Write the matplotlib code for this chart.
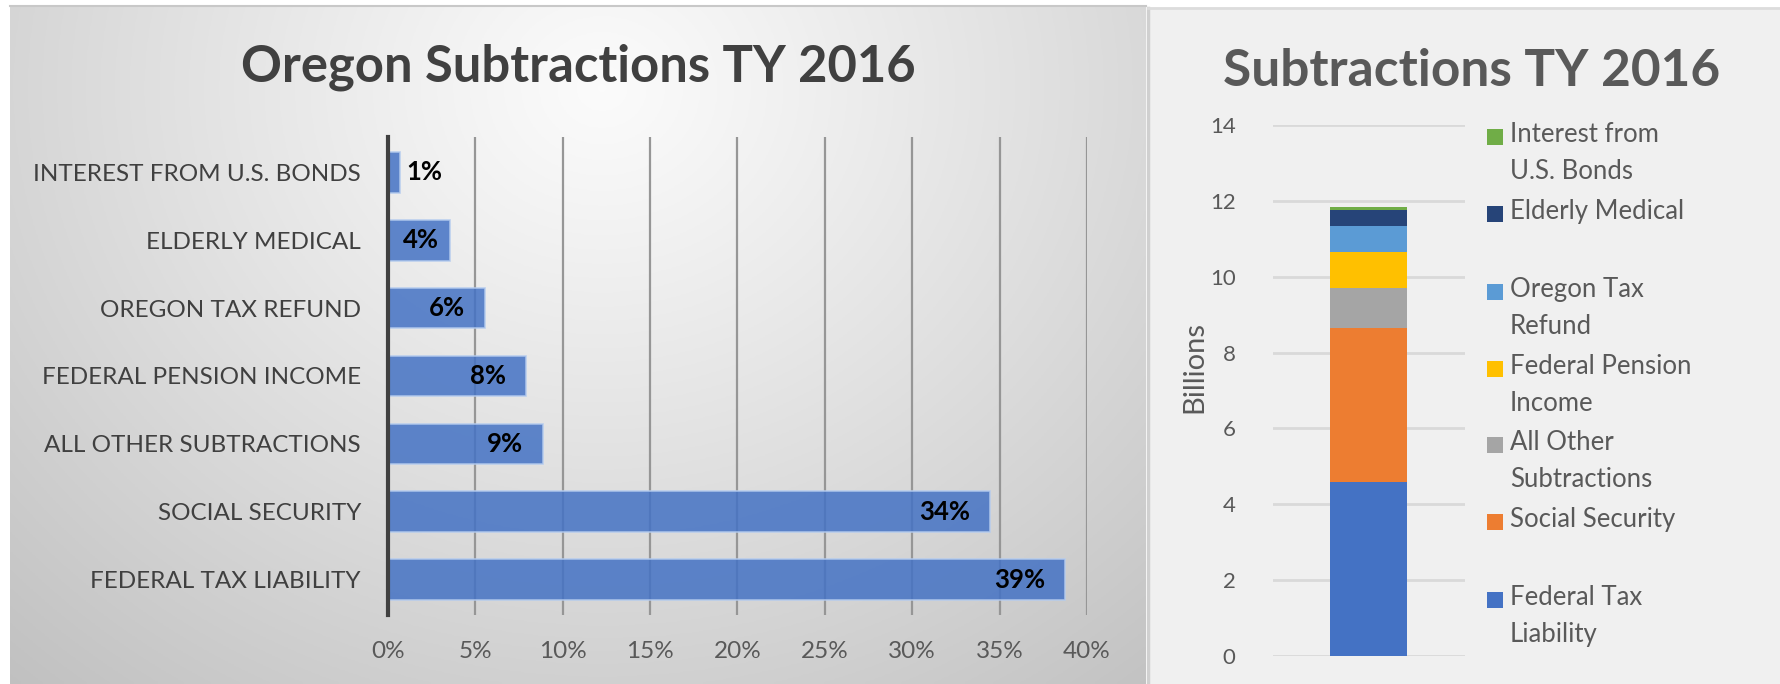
import numpy as np
import matplotlib
matplotlib.use("Agg")
import matplotlib.pyplot as plt
from matplotlib.patches import Rectangle
from matplotlib.ticker import PercentFormatter

# ---------------- data ----------------
categories = ["FEDERAL TAX LIABILITY", "SOCIAL SECURITY", "ALL OTHER SUBTRACTIONS",
              "FEDERAL PENSION INCOME", "OREGON TAX REFUND", "ELDERLY MEDICAL",
              "INTEREST FROM U.S. BONDS"]
share_pct = [38.76, 34.45, 8.85, 7.88, 5.57, 3.53, 0.69]
x_ticks_pct = [0, 5, 10, 15, 20, 25, 30, 35, 40]

stack_labels = ["Federal Tax\nLiability", "Social Security", "All Other\nSubtractions",
                "Federal Pension\nIncome", "Oregon Tax\nRefund", "Elderly Medical",
                "Interest from\nU.S. Bonds"]
stack_billions = [4.58, 4.06, 1.06, 0.94, 0.69, 0.43, 0.07]
stack_colors = ["#4472c4", "#ed7d31", "#a5a5a5", "#ffc000", "#5b9bd5", "#264478", "#70ad47"]
y_ticks_billions = [0, 2, 4, 6, 8, 10, 12, 14]

FONT = "Lato"
plt.rcParams['font.family'] = [FONT, 'DejaVu Sans']

W, H = 1780, 684
fig = plt.figure(figsize=(W / 100, H / 100), dpi=100)
fig.patch.set_facecolor("white")


def fx(px):
    return px / W


def fy(py):
    return 1 - py / H


# ---------------- left panel background (gradient) ----------------
bg = fig.add_axes([fx(10), 0, fx(1146 - 10), fy(5)])
bg.set_axis_off()
ny, nx = 200, 400
yy, xx = np.mgrid[0:ny, 0:nx]
cx, cy = 0.52 * nx, 0.12 * ny
d = np.sqrt(((xx - cx) / nx) ** 2 * 1.0 + ((yy - cy) / ny) ** 2 * 0.45)
d = d / d.max()
v = 0.985 - 0.23 * d ** 1.1
img = np.dstack([v, v, v])
bg.imshow(img, aspect="auto", extent=[0, 1, 0, 1], origin="upper")
bg.set_xlim(0, 1)
bg.set_ylim(0, 1)
fig.add_artist(plt.Line2D([fx(10), fx(1146)], [fy(5.5), fy(5.5)], color="#c8c8c8", lw=1.5))

# ---------------- right panel background ----------------
fig.add_artist(Rectangle((fx(1148), 0), fx(W - 1148), fy(8), transform=fig.transFigure,
                         facecolor="#f0f0f0", edgecolor="none", zorder=0))
fig.add_artist(plt.Line2D([fx(1148), fx(1148)], [0, fy(8)], color="#d0d0d0", lw=2.5))
fig.add_artist(plt.Line2D([fx(1148), fx(W)], [fy(8), fy(8)], color="#dcdcdc", lw=2))

# ---------------- left chart ----------------
ax = fig.add_axes([fx(388), fy(615), fx(1087 - 388), (615 - 137) / H])
ax.set_facecolor("none")
ypos = np.arange(len(categories))
ax.barh(ypos, share_pct, height=0.6, color="#4472c4", alpha=0.85,
        edgecolor="#b4cbee", linewidth=1.2, zorder=3)
ax.set_xlim(0, 40)
ax.set_ylim(-0.52, len(categories) - 0.48)
ax.set_xticks(x_ticks_pct)
ax.xaxis.set_major_formatter(PercentFormatter(decimals=0))
ax.set_yticks(ypos)
ax.set_yticklabels(categories)
for xv in x_ticks_pct[1:]:
    ax.axvline(xv, color="#969696", lw=1.6, zorder=1)
for s in ["top", "right", "bottom"]:
    ax.spines[s].set_visible(False)
ax.spines["left"].set_color("#404040")
ax.spines["left"].set_linewidth(3)
ax.spines["left"].set_zorder(5)
ax.tick_params(axis="both", length=0)
ax.tick_params(axis="x", pad=19, labelsize=17.5, labelcolor="#595959")
ax.tick_params(axis="y", pad=19.5, labelsize=17.5, labelcolor="#404040")
for i, p in enumerate(share_pct):
    lab = f"{round(p):.0f}%"
    if p < 2:
        ax.annotate(lab, (p, i), xytext=(6, 0), textcoords="offset pixels",
                    ha="left", va="center", fontsize=18.5, fontweight="bold", color="black", zorder=6)
    else:
        off = -11 if p < 5 else -20
        ax.annotate(lab, (p, i), xytext=(off, 0), textcoords="offset pixels",
                    ha="right", va="center", fontsize=18.5, fontweight="bold", color="black", zorder=6)

fig.text(fx(578), fy(67), "Oregon Subtractions TY 2016", ha="center", va="center",
         fontsize=36.5, fontweight="bold", color="#404040")

# ---------------- right chart ----------------
ax2 = fig.add_axes([fx(1273), fy(656), fx(1464.5 - 1273), (656 - 125) / H])
ax2.set_facecolor("none")
bottom = 0.0
for val, col in zip(stack_billions, stack_colors):
    ax2.bar([0], [val], bottom=bottom, width=0.4, color=col, zorder=3)
    bottom += val
ax2.set_xlim(-0.5, 0.5)
ax2.set_ylim(0, 14)
ax2.set_yticks(y_ticks_billions)
ax2.set_xticks([])
ax2.grid(axis="y", color="#d9d9d9", lw=2, zorder=0)
for s in ax2.spines.values():
    s.set_visible(False)
ax2.tick_params(axis="y", length=0, pad=27, labelsize=16, labelcolor="#595959")
ax2.set_ylabel("Billions", fontsize=21, color="#595959")
ax2.yaxis.set_label_coords(-0.345, 0.544)

fig.text(fx(1472), fy(71), "Subtractions TY 2016", ha="center", va="center",
         fontsize=37, fontweight="bold", color="#595959")

# legend (top to bottom order is reverse of stack)
leg_y = [137, 214, 292, 369, 445, 522, 600]
for yc, lab, col in zip(leg_y, stack_labels[::-1], stack_colors[::-1]):
    fig.add_artist(Rectangle((fx(1487), fy(yc + 8)), fx(16), 16 / H, transform=fig.transFigure,
                             facecolor=col, edgecolor="none"))
    fig.text(fx(1510), fy(yc - 15), lab, ha="left", va="top", fontsize=18.5,
             color="#595959", linespacing=1.62)

fig.savefig("out.png", dpi=100, facecolor=fig.get_facecolor())
